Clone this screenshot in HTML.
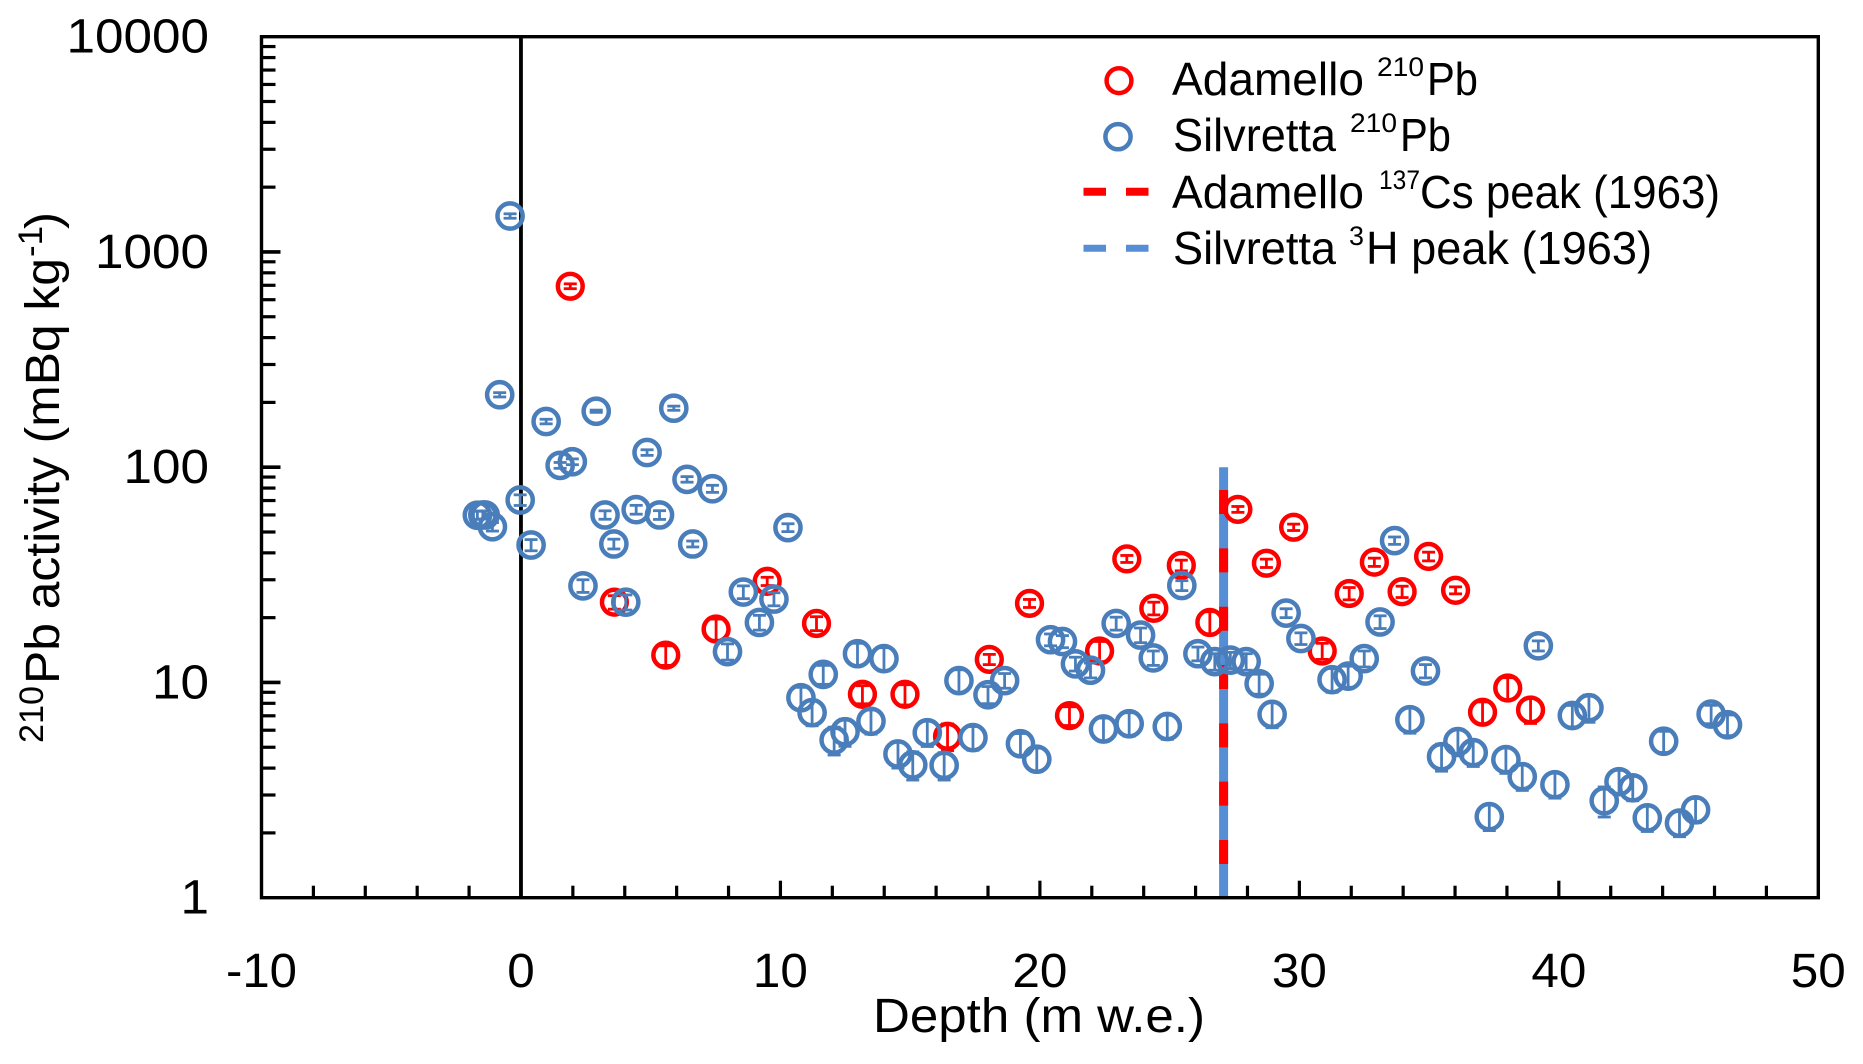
<!DOCTYPE html>
<html lang="en">
<head>
<meta charset="utf-8">
<title>210Pb activity versus depth</title>
<style>
  html, body { margin: 0; padding: 0; background: #fff; width: 1863px; height: 1064px; overflow: hidden; }
  svg { display: block; }
  text { font-family: "Liberation Sans", sans-serif; fill: #000; }
</style>
</head>
<body>
<svg id="chart" xmlns="http://www.w3.org/2000/svg" width="1863" height="1064" viewBox="0 0 1863 1064">
  <g id="plot-lines"></g>
  <g id="red-points"></g>
  <g id="blue-points"></g>
  <g id="axes"></g>

  <g>
    <text transform="translate(43,743) rotate(-90)" font-size="34" textLength="57" lengthAdjust="spacingAndGlyphs">210</text>
    <text transform="translate(59,684) rotate(-90)" font-size="48" textLength="426" lengthAdjust="spacingAndGlyphs">Pb activity (mBq kg</text>
    <text transform="translate(42,257) rotate(-90)" font-size="34" textLength="31" lengthAdjust="spacingAndGlyphs">-1</text>
    <text transform="translate(59,229) rotate(-90)" font-size="48" textLength="17" lengthAdjust="spacingAndGlyphs">)</text>
  </g>
  <text x="873" y="1032" font-size="48" textLength="332" lengthAdjust="spacingAndGlyphs">Depth (m w.e.)</text>

  <g>
    <g>
      <circle cx="1119" cy="80.7" r="12.4" fill="none" stroke="#FF0000" stroke-width="4.5"/>
      <text x="1172" y="95" font-size="46" textLength="192" lengthAdjust="spacingAndGlyphs">Adamello</text>
      <text x="1377" y="76" font-size="27" textLength="47" lengthAdjust="spacingAndGlyphs">210</text>
      <text x="1427" y="95" font-size="46" textLength="51" lengthAdjust="spacingAndGlyphs">Pb</text>
    </g>
    <g>
      <circle cx="1118" cy="136.7" r="12.6" fill="none" stroke="#4A7EBB" stroke-width="4.5"/>
      <text x="1173" y="151" font-size="46" textLength="163" lengthAdjust="spacingAndGlyphs">Silvretta</text>
      <text x="1350" y="132" font-size="27" textLength="47" lengthAdjust="spacingAndGlyphs">210</text>
      <text x="1400" y="151" font-size="46" textLength="51" lengthAdjust="spacingAndGlyphs">Pb</text>
    </g>
    <g>
      <line x1="1083.5" x2="1153.6" y1="191.7" y2="191.7" stroke="#FF0000" stroke-width="8" stroke-dasharray="22.5 20"/>
      <text x="1172" y="208" font-size="46" textLength="192" lengthAdjust="spacingAndGlyphs">Adamello</text>
      <text x="1379" y="189" font-size="27" textLength="41" lengthAdjust="spacingAndGlyphs">137</text>
      <text x="1420" y="208" font-size="46" textLength="300" lengthAdjust="spacingAndGlyphs">Cs peak (1963)</text>
    </g>
    <g>
      <line x1="1083.5" x2="1153.6" y1="248.3" y2="248.3" stroke="#558ED5" stroke-width="7" stroke-dasharray="22.5 20"/>
      <text x="1173" y="264" font-size="46" textLength="163" lengthAdjust="spacingAndGlyphs">Silvretta</text>
      <text x="1349" y="245" font-size="27" textLength="15" lengthAdjust="spacingAndGlyphs">3</text>
      <text x="1366" y="264" font-size="46" textLength="286" lengthAdjust="spacingAndGlyphs">H peak (1963)</text>
    </g>
  </g>
</svg>

<script>
const xTickLabels = [-10, 0, 10, 20, 30, 40, 50];
const xMinorStep = 2;
const yTickLabels = [1, 10, 100, 1000, 10000];
const yMinorFactors = [2, 3, 4, 5, 6, 7, 8, 9];

const adamelloDepth = [1.90, 3.60, 5.58, 7.52, 9.49, 11.39, 13.16, 14.80, 16.44, 18.05, 19.60, 21.14, 22.30, 23.35, 24.39, 25.45, 26.55, 27.63, 28.73, 29.78, 30.88, 31.92, 32.89, 33.96, 34.98, 36.02, 37.06, 38.03, 38.91];
const adamelloActivity = [693, 23.6, 13.4, 17.7, 29.5, 18.8, 8.81, 8.81, 5.62, 12.8, 23.3, 7.01, 14.0, 37.5, 22.1, 35.0, 19.0, 63.7, 35.8, 52.6, 14.0, 25.9, 36.2, 26.4, 38.5, 26.8, 7.27, 9.42, 7.45];
const adamelloError = [18, 1.7, 1.4, 2.0, 1.3, 1.4, 0.85, 0.95, 0.8, 0.7, 1.0, 0.7, 1.5, 1.4, 1.5, 2.0, 2.3, 2.0, 1.6, 1.8, 1.2, 1.7, 1.6, 1.6, 1.8, 1.0, 0.85, 1.1, 1.0];

const silvrettaDepth = [-1.68, -1.47, -1.38, -1.10, -0.82, -0.42, -0.03, 0.39, 0.97, 1.51, 1.98, 2.39, 2.90, 3.24, 3.58, 4.04, 4.44, 4.86, 5.34, 5.89, 6.40, 6.62, 7.38, 7.96, 8.57, 9.19, 9.75, 10.29, 10.79, 11.22, 11.65, 12.07, 12.49, 12.97, 13.49, 13.99, 14.53, 15.10, 15.66, 16.31, 16.88, 17.42, 18.00, 18.64, 19.25, 19.88, 20.41, 20.87, 21.37, 21.95, 22.45, 22.94, 23.44, 23.88, 24.37, 24.91, 25.47, 26.09, 26.74, 27.34, 27.95, 28.45, 28.95, 29.49, 30.06, 31.26, 31.88, 32.50, 33.11, 33.67, 34.26, 34.86, 35.48, 36.11, 36.70, 37.32, 37.96, 38.59, 39.21, 39.85, 40.52, 41.16, 41.75, 42.32, 42.85, 43.41, 44.04, 44.65, 45.27, 45.87, 46.50];
const silvrettaActivity = [59.8, 60.0, 60.0, 52.9, 217, 1469, 70.4, 43.5, 163, 102, 106, 28.1, 182, 60.0, 44.0, 23.6, 63.5, 117, 60.0, 188, 87.8, 44.0, 79.4, 13.9, 26.3, 19.0, 24.4, 52.4, 8.49, 7.24, 10.9, 5.40, 5.90, 13.6, 6.60, 12.9, 4.65, 4.14, 5.84, 4.12, 10.2, 5.54, 8.77, 10.2, 5.19, 4.40, 15.8, 15.5, 12.2, 11.4, 6.08, 18.8, 6.43, 16.6, 13.0, 6.24, 28.2, 13.6, 12.5, 12.7, 12.5, 9.87, 7.11, 21.0, 16.0, 10.3, 10.7, 12.9, 19.1, 45.6, 6.71, 11.3, 4.52, 5.31, 4.72, 2.38, 4.38, 3.65, 14.8, 3.35, 7.02, 7.63, 2.82, 3.46, 3.24, 2.35, 5.33, 2.22, 2.56, 7.13, 6.36];
const silvrettaError = [2.6, 2.6, 2.6, 2.4, 5, 35, 4, 2.6, 4, 3.2, 3.3, 1.9, 2.2, 2.7, 2.3, 1.9, 3, 3.5, 2.8, 4.2, 2.6, 1.4, 3, 1.2, 1.8, 1.5, 1.7, 2.2, 1.0, 0.95, 1.1, 0.8, 0.85, 1.6, 0.85, 1.6, 0.65, 0.62, 0.8, 0.6, 1.25, 0.7, 0.8, 0.8, 0.6, 0.55, 1.0, 1.0, 0.9, 0.9, 0.75, 1.3, 0.8, 1.3, 1.0, 0.8, 1.5, 1.0, 1.1, 1.1, 1.1, 1.05, 0.95, 1.0, 1.0, 1.3, 1.2, 1.1, 1.3, 1.8, 0.9, 0.8, 0.65, 0.75, 0.65, 0.33, 0.6, 0.5, 0.8, 0.45, 0.8, 1.1, 0.45, 0.45, 0.42, 0.32, 0.6, 0.3, 0.33, 0.7, 0.7];

const peakDepth = 27.08;
const peakRange = [1, 100];
const zeroDepth = 0;

const NS = 'http://www.w3.org/2000/svg';
const plotLeft = 261.5, plotRight = 1818.3, plotTop = 36.7, plotBottom = 897.7;
const xMin = -10, xMax = 50, yMinLog = 0, yMaxLog = 4;

function xScale(v) {
  return plotLeft + (v - xMin) / (xMax - xMin) * (plotRight - plotLeft);
}
function yScale(v) {
  return plotBottom - (Math.log10(v) - yMinLog) / (yMaxLog - yMinLog) * (plotBottom - plotTop);
}
function makeLine(parent, x1, y1, x2, y2, color, width) {
  const el = document.createElementNS(NS, 'line');
  el.setAttribute('x1', x1);
  el.setAttribute('y1', y1);
  el.setAttribute('x2', x2);
  el.setAttribute('y2', y2);
  el.setAttribute('stroke', color);
  el.setAttribute('stroke-width', width);
  parent.appendChild(el);
  return el;
}

const linesGroup = document.getElementById('plot-lines');
const axesGroup = document.getElementById('axes');

const zeroLine = makeLine(linesGroup, xScale(zeroDepth), plotTop, xScale(zeroDepth), plotBottom, '#000', 3.8);



const silvrettaPeak = makeLine(linesGroup, xScale(peakDepth), yScale(peakRange[1]), xScale(peakDepth), yScale(peakRange[0]) + 1.5, '#558ED5', 9);



const adamelloPeak = makeLine(linesGroup, xScale(peakDepth), yScale(peakRange[1]), xScale(peakDepth), yScale(peakRange[0]), '#FF0000', 9);
adamelloPeak.setAttribute('stroke-dasharray', '24 34.33');
adamelloPeak.setAttribute('stroke-dashoffset', '35.5');



function drawSeries(groupId, depth, activity, error, color, radius, pointName) {
  const group = document.getElementById(groupId);
  for (let i = 0; i < depth.length; i++) {
    const cx = xScale(depth[i]);
    const cy = yScale(activity[i]);
    const point = document.createElementNS(NS, 'g');
    
    
    const yHigh = yScale(activity[i] + error[i]);
    const yLow = yScale(activity[i] - error[i]);
    makeLine(point, cx, yHigh, cx, yLow, color, 2.8);
    makeLine(point, cx - 6.5, yHigh, cx + 6.5, yHigh, color, 2.8);
    makeLine(point, cx - 6.5, yLow, cx + 6.5, yLow, color, 2.8);
    const circle = document.createElementNS(NS, 'circle');
    circle.setAttribute('cx', cx);
    circle.setAttribute('cy', cy);
    circle.setAttribute('r', radius);
    circle.setAttribute('fill', 'none');
    circle.setAttribute('stroke', color);
    circle.setAttribute('stroke-width', 4.5);
    point.appendChild(circle);
    group.appendChild(point);
  }
}
drawSeries('red-points', adamelloDepth, adamelloActivity, adamelloError, '#FF0000', 12.4, 'adamello-point');
drawSeries('blue-points', silvrettaDepth, silvrettaActivity, silvrettaError, '#4A7EBB', 12.6, 'silvretta-point');

const frame = document.createElementNS(NS, 'rect');
frame.setAttribute('x', plotLeft);
frame.setAttribute('y', plotTop);
frame.setAttribute('width', plotRight - plotLeft);
frame.setAttribute('height', plotBottom - plotTop);
frame.setAttribute('fill', 'none');
frame.setAttribute('stroke', '#000');
frame.setAttribute('stroke-width', 3.4);


axesGroup.appendChild(frame);

for (let v = xMin; v <= xMax; v += xMinorStep) {
  if (v === xMin || v === xMax) continue;
  const isMajor = xTickLabels.indexOf(v) >= 0;
  const tick = makeLine(axesGroup, xScale(v), plotBottom, xScale(v), plotBottom - (isMajor ? 17 : 12), '#000', 3.2);
  
  
}

xTickLabels.forEach(function (label) {
  const t = document.createElementNS(NS, 'text');
  const str = String(label);
  t.setAttribute('x', xScale(label));
  t.setAttribute('y', 987);
  t.setAttribute('text-anchor', 'middle');
  t.setAttribute('font-size', 48);
  t.setAttribute('textLength', label < 0 ? 71 : str.length * 27.5);
  t.setAttribute('lengthAdjust', 'spacingAndGlyphs');
  
  
  t.textContent = str;
  axesGroup.appendChild(t);
});

yTickLabels.forEach(function (label, idx) {
  if (idx > 0 && idx < yTickLabels.length - 1) {
    const major = makeLine(axesGroup, plotLeft, yScale(label), plotLeft + 19, yScale(label), '#000', 3.6);
    
    
  }
  if (idx < yTickLabels.length - 1) {
    yMinorFactors.forEach(function (f) {
      const minor = makeLine(axesGroup, plotLeft, yScale(label * f), plotLeft + 14, yScale(label * f), '#000', 3.2);
      
      
    });
  }
  const t = document.createElementNS(NS, 'text');
  const str = String(label);
  t.setAttribute('x', 209);
  t.setAttribute('y', yScale(label) + 16);
  t.setAttribute('text-anchor', 'end');
  t.setAttribute('font-size', 48);
  t.setAttribute('textLength', str.length * 28.5);
  t.setAttribute('lengthAdjust', 'spacingAndGlyphs');
  
  
  t.textContent = str;
  axesGroup.appendChild(t);
});
</script>
</body>
</html>
